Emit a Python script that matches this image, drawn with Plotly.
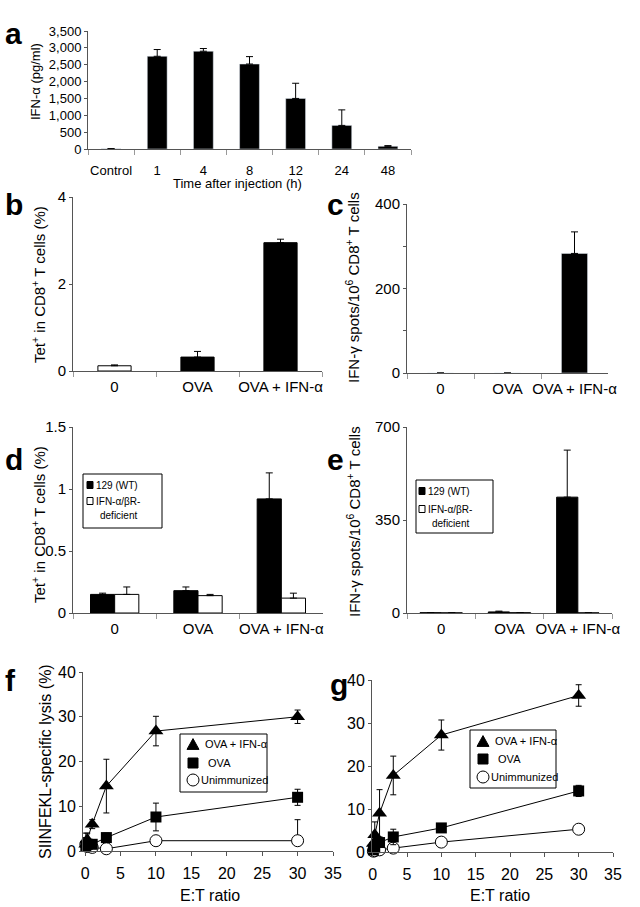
import plotly.graph_objects as go

W, H = 640, 907
FONT = "Liberation Sans, Arial, sans-serif"

# ---------------- data ----------------
cats_a = ["Control", "1", "4", "8", "12", "24", "48"]
ifn_a = [5, 2750, 2900, 2520, 1500, 700, 80]
ifn_a_err = [5, 200, 80, 220, 450, 460, 20]

cats_b = ["0", "OVA", "OVA + IFN-α"]
tet_b = [0.12, 0.32, 2.95]
tet_b_err = [0.02, 0.13, 0.08]

spots_c = [0, 0, 283]
spots_c_err = [0, 0, 51]

strain_names = ["129 (WT)", "IFN-α/βR-<br>deficient"]
tet_d_wt = [0.15, 0.18, 0.92]
tet_d_wt_err = [0.01, 0.03, 0.21]
tet_d_ko = [0.15, 0.14, 0.12]
tet_d_ko_err = [0.06, 0.01, 0.04]

spots_e_wt = [1, 4, 436]
spots_e_wt_err = [0.5, 3, 177]
spots_e_ko = [0.5, 1, 0.5]
spots_e_ko_err = [0, 0, 0]

group_names = ["OVA + IFN-α", " OVA", "Unimmunized"]
et = [0.1, 0.3, 1, 3, 10, 30]
f_ifn = [1.5, 2.5, 6.0, 14.5, 26.8, 30.0]
f_ifn_err = [1.5, 1.5, 1.0, 6.0, 3.3, 1.5]
f_ova = [1.0, 1.5, 1.5, 3.0, 7.6, 12.0]
f_ova_err = [1.5, 1.0, 0.8, 1.0, 3.1, 1.8]
f_un = [1.5, 1.0, 0.8, 0.5, 2.3, 2.3]
f_un_err_up = [2.5, 1.5, 0.5, 1.0, 0.8, 4.7]
f_un_err_dn = [2.5, 1.0, 0.5, 0.5, 0.8, 0.0]

g_ifn = [2.0, 4.0, 9.0, 17.8, 27.2, 36.4]
g_ifn_err = [1.5, 3.0, 5.5, 4.5, 3.5, 2.5]
g_ova = [0.5, 1.0, 2.2, 3.5, 5.6, 14.2]
g_ova_err = [1.8, 0.5, 0.8, 1.8, 0.6, 1.3]
g_un = [0.2, 0.3, 0.5, 0.9, 2.3, 5.3]
g_un_err = [0.2, 0.2, 0.3, 0.3, 0.5, 0.5]

# ---------------- helpers ----------------
def px(x):
    return x / W

def py(y):
    return 1 - y / H

AX = "#555555"

def errbar(arr, minus=None):
    return dict(type="data", symmetric=False, array=arr,
                arrayminus=minus if minus is not None else [0] * len(arr),
                color="black", thickness=1, width=3.5)

fig = go.Figure()

# ---- a ----
fig.add_trace(go.Bar(x=cats_a, y=ifn_a, error_y=errbar(ifn_a_err), marker_color="black",
                     width=0.43, offset=-0.215, xaxis="x", yaxis="y"))
# ---- b ----
fig.add_trace(go.Bar(x=cats_b, y=tet_b, error_y=errbar(tet_b_err),
                     marker=dict(color=["white", "black", "black"], line=dict(color="black", width=1)),
                     width=0.4, offset=-0.2, xaxis="x2", yaxis="y2"))
# ---- c ----
fig.add_trace(go.Bar(x=cats_b, y=spots_c, error_y=errbar(spots_c_err), marker_color="black",
                     width=0.39, offset=-0.195, xaxis="x3", yaxis="y3"))
# ---- d ----
fig.add_trace(go.Bar(x=cats_b, y=tet_d_wt, error_y=errbar(tet_d_wt_err), name=strain_names[0],
                     marker=dict(color="black", line=dict(color="black", width=1)),
                     width=0.29, offset=-0.29, xaxis="x4", yaxis="y4"))
fig.add_trace(go.Bar(x=cats_b, y=tet_d_ko, error_y=errbar(tet_d_ko_err), name=strain_names[1],
                     marker=dict(color="white", line=dict(color="black", width=1)),
                     width=0.29, offset=0, xaxis="x4", yaxis="y4"))
# ---- e ----
fig.add_trace(go.Bar(x=cats_b, y=spots_e_wt, error_y=errbar(spots_e_wt_err), name=strain_names[0],
                     marker=dict(color="black", line=dict(color="black", width=1)),
                     width=0.31, offset=-0.31, xaxis="x5", yaxis="y5"))
fig.add_trace(go.Bar(x=cats_b, y=spots_e_ko, error_y=errbar(spots_e_ko_err), name=strain_names[1],
                     marker=dict(color="white", line=dict(color="black", width=1)),
                     width=0.31, offset=0, xaxis="x5", yaxis="y5"))

# ---- f, g ----
def lysis(xa, ya, ifn, ifn_e, ova, ova_e, un, un_up, un_dn):
    common = dict(mode="lines+markers", line=dict(color="black", width=1), xaxis=xa, yaxis=ya,
                  cliponaxis=False)
    fig.add_trace(go.Scatter(x=et, y=un, name=group_names[2],
                             error_y=dict(type="data", symmetric=False, array=un_up,
                                          arrayminus=un_dn, color="black", thickness=1, width=3),
                             marker=dict(symbol="circle", size=12, color="white",
                                         line=dict(color="black", width=1)), **common))
    fig.add_trace(go.Scatter(x=et, y=ova, name=group_names[1],
                             error_y=dict(type="data", array=ova_e, color="black",
                                          thickness=1, width=3),
                             marker=dict(symbol="square", size=11, color="black"), **common))
    fig.add_trace(go.Scatter(x=et, y=ifn, name=group_names[0],
                             error_y=dict(type="data", array=ifn_e, color="black",
                                          thickness=1, width=3),
                             marker=dict(symbol="triangle-up", size=13, color="black"), **common))

lysis("x6", "y6", f_ifn, f_ifn_err, f_ova, f_ova_err, f_un, f_un_err_up, f_un_err_dn)
lysis("x7", "y7", g_ifn, g_ifn_err, g_ova, g_ova_err, g_un, g_un_err, g_un_err)

# ---------------- axes ----------------
def cat_x(x0, x1, anchor, size, standoff=2):
    return dict(domain=[px(x0), px(x1)], anchor=anchor, type="category", showline=True,
                linecolor=AX, linewidth=1, ticks="outside", tickson="boundaries", ticklen=5,
                tickcolor="#999999", showgrid=False, zeroline=False, tickangle=0,
                automargin=False, ticklabelstandoff=standoff, fixedrange=True,
                tickfont=dict(family=FONT, size=size, color="black"))

def lin_y(y_top, y_bot, anchor, rng, dtick, size, fmt=None, minor=None):
    d = dict(domain=[py(y_bot), py(y_top)], anchor=anchor, range=rng, dtick=dtick, tick0=0,
             showline=True, linecolor=AX, linewidth=1, ticks="outside", ticklen=3, tickcolor=AX,
             showgrid=False, zeroline=False, automargin=False, ticklabelstandoff=0, fixedrange=True,
             tickfont=dict(family=FONT, size=size, color="black"))
    if fmt:
        d["tickformat"] = fmt
    if minor:
        d["minor"] = dict(dtick=minor, ticks="outside", ticklen=3, tickcolor=AX, showgrid=False)
    return d

def lin_x(x0, x1, anchor, rng, size):
    return dict(domain=[px(x0), px(x1)], anchor=anchor, range=rng, dtick=5, tick0=0,
                showline=True, linecolor=AX, linewidth=1, ticks="outside", ticklen=4, tickcolor=AX,
                showgrid=False, zeroline=False, automargin=False, ticklabelstandoff=4,
                fixedrange=True, tickfont=dict(family=FONT, size=size, color="black"))

layout = dict(
    width=W, height=H, margin=dict(l=0, r=0, t=0, b=0, autoexpand=False),
    paper_bgcolor="white", plot_bgcolor="white", barmode="overlay", showlegend=False,
    font=dict(family=FONT, color="black"), hovermode=False,
    xaxis=cat_x(88, 411, "y", 13, standoff=9),
    yaxis=lin_y(31, 149, "x", [0, 3500], 500, 13, fmt=",d"),
    xaxis2=cat_x(73, 322, "y2", 15),
    yaxis2=lin_y(197, 371, "x2", [0, 4], 2, 15),
    xaxis3=cat_x(407, 608, "y3", 15),
    yaxis3=lin_y(204, 373, "x3", [0, 400], 200, 15, minor=100),
    xaxis4=cat_x(73, 323, "y4", 15),
    yaxis4=lin_y(427, 613, "x4", [0, 1.5], 0.5, 15),
    xaxis5=cat_x(407, 612, "y5", 15),
    yaxis5=lin_y(427, 613, "x5", [0, 700], 350, 15),
    xaxis6=lin_x(83, 333, "y6", [-0.3, 35], 16),
    yaxis6=lin_y(672, 851, "x6", [0, 40], 10, 16),
    xaxis7=lin_x(372, 613, "y7", [-0.1, 35], 16),
    yaxis7=lin_y(680, 852, "x7", [0, 40], 10, 16),
)
fig.update_layout(**layout)

# ---------------- text & legend boxes ----------------
ann = []
shapes = []

def text(x, y, t, size, xanchor="left", angle=0, bold=False):
    ann.append(dict(x=px(x), y=py(y), xref="paper", yref="paper",
                    text=("<b>%s</b>" % t) if bold else t, textangle=angle,
                    showarrow=False, xanchor=xanchor, yanchor="middle",
                    font=dict(family=FONT, size=size, color="black")))

def label(x, y, t):
    text(x, y, t, 30, bold=True)

def ytitle(x, y, t, size):
    text(x, y, t, size, xanchor="center", angle=-90)

def xtitle(x, y, t, size):
    text(x, y, t, size, xanchor="center")

def rect(x0, y0, x1, y1, fill="white", lw=1):
    shapes.append(dict(type="rect", xref="paper", yref="paper", x0=px(x0), x1=px(x1),
                       y0=py(y1), y1=py(y0), fillcolor=fill, line=dict(color="black", width=lw)))

def tri(cx, cy, s):
    h = s * 0.9
    shapes.append(dict(type="path", xref="paper", yref="paper", fillcolor="black",
                       line=dict(color="black", width=1),
                       path="M %f,%f L %f,%f L %f,%f Z" % (px(cx - s / 2), py(cy + h / 2),
                                                            px(cx + s / 2), py(cy + h / 2),
                                                            px(cx), py(cy - h / 2))))

def circ(cx, cy, r):
    shapes.append(dict(type="circle", xref="paper", yref="paper", x0=px(cx - r), x1=px(cx + r),
                       y0=py(cy + r), y1=py(cy - r), fillcolor="white",
                       line=dict(color="black", width=1)))

def bar_legend(x0, y0, x1, y1, sx, sy1, sy2, tx, ty1, ty2):
    rect(x0, y0, x1, y1)
    rect(sx, sy1 - 3.5, sx + 6, sy1 + 3.5, fill="black")
    rect(sx, sy2 - 3.5, sx + 6, sy2 + 3.5, fill="white")
    text(tx, ty1, strain_names[0], 10)
    parts = strain_names[1].split("<br>")
    text(tx, ty2, parts[0], 10)
    text(tx + 4, ty2 + 14, parts[1], 10)

def marker_legend(x0, y0, x1, y1, mx, my, tx):
    rect(x0, y0, x1, y1)
    tri(mx, my[0], 12)
    rect(mx - 5, my[1] - 5, mx + 5, my[1] + 5, fill="black")
    circ(mx, my[2], 6)
    text(tx[0], my[0], group_names[0], 11)
    text(tx[1], my[1], group_names[1], 11)
    text(tx[2], my[2], group_names[2], 11)

bar_legend(83, 474, 162, 528, 87, 485, 501, 94, 485, 501)
bar_legend(416, 480, 493, 533, 419, 491, 509, 426, 491, 509)
marker_legend(180, 734, 267, 792, 193, [744, 763, 780], [203, 203, 199])
marker_legend(470, 730, 556, 788, 483, [741, 759, 777], [493, 493, 489])

label(3, 33, "a"); label(3, 204, "b"); label(325, 204, "c")
label(3, 460, "d"); label(325, 460, "e"); label(3, 680, "f"); label(328, 684, "g")

ytitle(35, 82, "IFN-α (pg/ml)", 13)
xtitle(237, 183, "Time after injection (h)", 13)
ytitle(38, 285, "Tet<sup>+</sup> in CD8<sup>+</sup> T cells (%)", 15)
ytitle(353, 288, "IFN-γ spots/10<sup>6</sup> CD8<sup>+</sup> T cells", 15)
ytitle(38, 525, "Tet<sup>+</sup> in CD8<sup>+</sup> T cells (%)", 15)
ytitle(353, 522, "IFN-γ spots/10<sup>6</sup> CD8<sup>+</sup> T cells", 15)
ytitle(45, 762, "SIINFEKL-specific lysis (%)", 16)
xtitle(210, 895, "E:T ratio", 16)
xtitle(500, 895, "E:T ratio", 16)

fig.update_layout(annotations=ann, shapes=shapes)
fig.write_html("out.html", config={"displayModeBar": False},
               post_script="document.body.style.margin='0';")
